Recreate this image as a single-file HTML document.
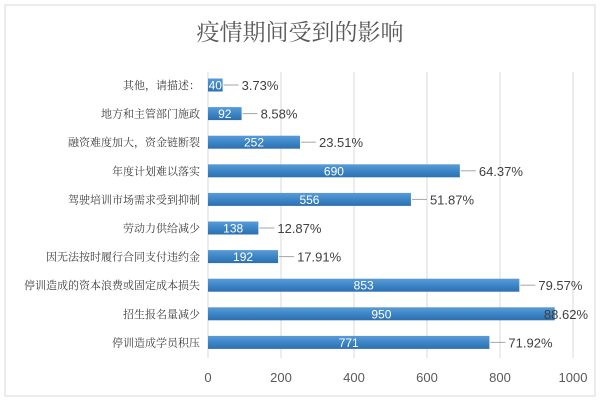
<!DOCTYPE html>
<html><head><meta charset="utf-8"><style>
html,body{margin:0;padding:0;background:#fff;}
svg{display:block;font-family:"Liberation Sans","Noto Sans CJK SC",sans-serif;}
</style></head><body>
<svg width="600" height="401" viewBox="0 0 600 401">
<defs><linearGradient id="g" x1="0" y1="0" x2="0" y2="1"><stop offset="0" stop-color="#5b9bd5"/><stop offset="0.5" stop-color="#3c86c8"/><stop offset="1" stop-color="#2e6fae"/></linearGradient></defs>
<rect x="5" y="5" width="590" height="391" fill="#fff" stroke="#d9d9d9"/>
<text x="300" y="40" text-anchor="middle" font-size="23" fill="#595959" font-family="'Noto Serif CJK SC','Liberation Serif',serif">疫情期间受到的影响</text>
<g id="grid"></g><g id="bars"></g>
</svg>
<script>
const categories=["其他，请描述：","地方和主管部门施政","融资难度加大，资金链断裂","年度计划难以落实","驾驶培训市场需求受到抑制","劳动力供给减少","因无法按时履行合同支付违约金","停训造成的资本浪费或固定成本损失","招生报名量减少","停训造成学员积压"];
const counts=[40,92,252,690,556,138,192,853,950,771];
const percents=["3.73%","8.58%","23.51%","64.37%","51.87%","12.87%","17.91%","79.57%","88.62%","71.92%"];
const ticks=[0,200,400,600,800,1000];
const ns="http://www.w3.org/2000/svg";
const x=v=>208+v*0.365;
const rowY=i=>85+i*28.6;
function mk(t,a,p){const e=document.createElementNS(ns,t);for(const k in a)e.setAttribute(k,a[k]);p.appendChild(e);return e;}
const grid=document.getElementById('grid'),bars=document.getElementById('bars');
ticks.forEach(t=>{
 const l=mk('line',{x1:x(t),x2:x(t),y1:72,y2:358,stroke:'#d9d9d9'},grid);
 
 
 const tx=mk('text',{x:x(t),y:382,'text-anchor':'middle','font-size':13,fill:'#595959'},grid);
 tx.textContent=t;
 
 
});
categories.forEach((c,i)=>{
 const y=rowY(i);
 const lb=mk('text',{x:200,y:y+4,'text-anchor':'end','font-size':11,fill:'#404040','font-family':"'Noto Serif CJK SC',serif"},bars);
 lb.textContent=c;
 
 
 const r=mk('rect',{x:x(0),y:y-6.5,width:x(counts[i])-x(0),height:13,fill:'url(#g)'},bars);
 
 
 const v=mk('text',{x:(x(0)+x(counts[i]))/2,y:y+4.5,'text-anchor':'middle','font-size':12,fill:'#fff'},bars);
 v.textContent=counts[i];
 
 
 const e=x(counts[i]);
 if(e+19+48>590){
  const p=mk('text',{x:588,y:y+5,'text-anchor':'end','font-size':13,fill:'#404040'},bars);
  p.textContent=percents[i];
  
  
 } else {
  const ln=mk('line',{x1:e+1,x2:e+16,y1:y,y2:y,stroke:'#a6a6a6'},bars);
  
  
  const p=mk('text',{x:e+19,y:y+5,'font-size':13,fill:'#404040'},bars);
  p.textContent=percents[i];
  
  
 }
});
</script>
</body></html>
